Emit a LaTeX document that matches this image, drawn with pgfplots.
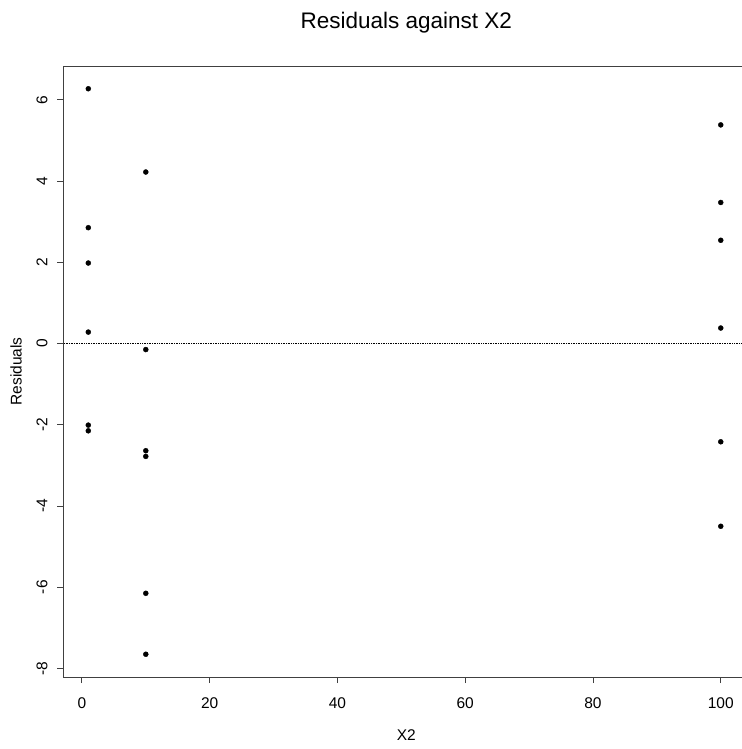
\documentclass[border=0pt]{standalone}
\usepackage{fontspec}
\setmainfont{Liberation Sans}
\usepackage{pgfplots}
\pgfplotsset{compat=1.18}
\begin{document}
\begin{tikzpicture}
\useasboundingbox (0,0) rectangle (742bp,749bp);
\begin{axis}[
  at={(63bp,72bp)}, anchor=south west,
  scale only axis,
  width=686.5bp, height=611bp,
  xmin=-2.96, xmax=104.5,
  ymin=-8.21, ymax=6.83,
  xtick={0,20,40,60,80,100},
  ytick={-8,-6,-4,-2,0,2,4,6},
  tick pos=left,
  tick align=outside,
  major tick length=6bp,
  axis line style={black!75, line width=0.9bp},
  every tick/.style={black!75, line width=0.9bp},
  /pgf/number format/assume math mode=true,
  tick label style={font=\fontsize{15.5bp}{18bp}\selectfont},
  yticklabel style={rotate=90, anchor=center, yshift=15bp},
  xticklabel style={anchor=center, yshift=-20bp},
  label style={font=\fontsize{15.5bp}{18bp}\selectfont},
  xlabel={X2},
  ylabel={Residuals},
  xlabel style={at={(axis description cs:0.5,0)}, anchor=center, yshift=-58bp},
  ylabel style={at={(axis description cs:0,0.5)}, anchor=center, yshift=47bp},
  title={Residuals against X2},
  title style={at={(axis description cs:0.5,1)}, anchor=center, yshift=37bp, font=\fontsize{22.5bp}{26bp}\selectfont},
]
\addplot[black, densely dotted, line width=0.7bp] coordinates {(-10,0) (120,0)};
\addplot[only marks, mark=*, mark size=2.5bp, black] coordinates {
  (1,6.27) (1,2.85) (1,1.98) (1,0.28) (1,-2.01) (1,-2.15)
  (10,4.22) (10,-0.15) (10,-2.64) (10,-2.78) (10,-6.15) (10,-7.65)
  (100,5.38) (100,3.47) (100,2.54) (100,0.38) (100,-2.42) (100,-4.50)
};
\end{axis}
\end{tikzpicture}
\end{document}
